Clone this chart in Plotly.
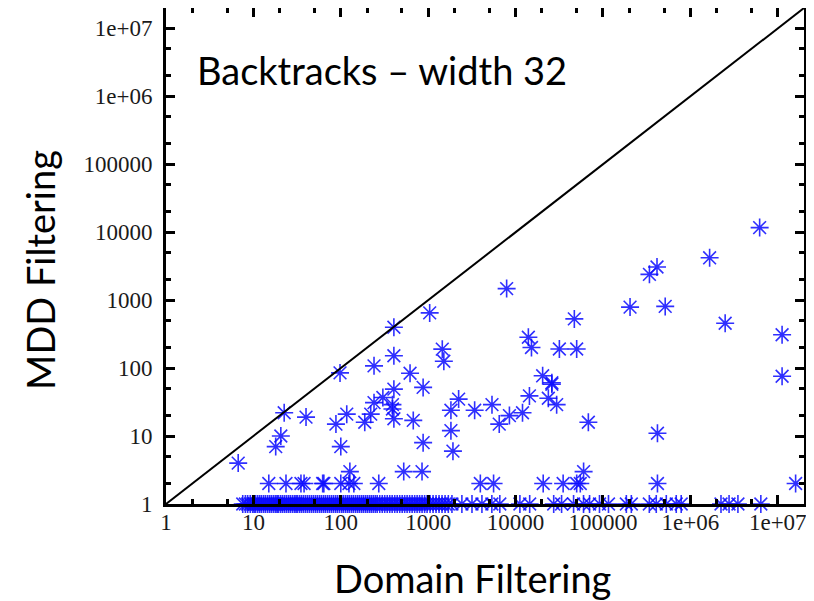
import plotly.graph_objects as go

# ---- data ----
tick_vals = [1, 10, 100, 1000, 10000, 100000, 1e6, 1e7]
tick_text = ["1", "10", "100", "1000", "10000", "100000", "1e+06", "1e+07"]

# points with MDD filtering backtracks > 3
domain_upper = [6.7, 18, 20.6, 22.5, 40, 88, 117, 100, 188, 220, 240, 303, 390, 405, 390, 405,
                675, 875, 875, 1820, 1820, 1920, 2230, 3400,
                5370, 6500, 8500, 12000, 14400, 23700, 29500, 26000, 68000, 420000,
                7900, 47000, 14000, 15200, 31700, 50000, 20400, 26000, 204000, 515000,
                340000, 415000, 1.66e6, 6.2e6, 2.5e6, 1.12e7, 1.12e7,
                98, 405, 1040, 240, 405, 620, 1450, 1510]
mdd_upper = [4, 7, 10, 22, 19, 15, 21, 7, 16, 21, 31, 37, 29, 49, 25, 18,
             17, 52, 8, 24, 12, 6, 35, 24,
             29, 15, 20, 22, 39, 36, 29, 58, 16, 11,
             1480, 530, 284, 201, 191, 191, 77, 61, 790, 810,
             2400, 3080, 4200, 11700, 457, 310, 76,
             85, 400, 650, 108, 152, 84, 190, 126]

# points with MDD = 2
domain_two = [15, 23.6, 35, 38, 62, 64, 100, 124, 141, 272, 3950, 5600, 20700, 35000,
              50000, 55000, 420000, 1.6e7]
mdd_two = [2] * len(domain_two)

# points with MDD = 3
domain_three = [127, 525, 850, 60000]
mdd_three = [3] * len(domain_three)

# points with MDD = 1 (a dense cluster between ~8 and ~2000, sparser beyond)
domain_one = [7.55, 8.1, 8.6, 9.2, 9.8, 10.2, 10.6, 11.2, 11.8, 12.4, 13.1, 13.8, 14.6, 15.4,
              16.2, 17.1, 18.0, 18.7, 19.4, 20.5, 21.6, 22.8, 24.0, 25.3, 26.6, 28.1, 29.6,
              30.8, 32.0, 33.8, 35.6, 37.5, 39.5, 41.6, 43.8, 46.2, 48.7, 51.4, 54.1, 57.1,
              60.1, 63.4, 66.7, 70.4, 74.1, 78.2, 82.4, 87, 91.5, 96.5, 102, 107, 113, 119,
              125, 132, 139, 147, 155, 163, 172, 181, 191, 201, 212, 223, 235, 248, 261,
              279, 298, 318, 340, 363, 387, 414, 442, 472, 504, 538, 574, 613, 655, 700,
              747, 797, 851, 910, 971, 1050, 1137, 1230, 1331, 1440, 1560, 1700, 1870,
              2430, 3170, 4120, 5350, 6600,
              11200, 14500, 27300, 33600, 46100, 59900, 70200, 91200, 115600, 185000,
              211000, 339000, 407000, 530000, 689000, 785000, 2.24e6, 2.77e6, 3.5e6, 6.4e6]
mdd_one = [1] * len(domain_one)

diag = [1, 10 ** 7.3]

xs = domain_upper + domain_two + domain_three + domain_one
ys = mdd_upper + mdd_two + mdd_three + mdd_one

BLUE = "rgba(10,10,255,0.85)"
fig = go.Figure()
fig.add_trace(go.Scatter(x=xs, y=ys, mode="markers", cliponaxis=False,
                         marker=dict(symbol="asterisk-open", size=15, color=BLUE,
                                     line=dict(color=BLUE, width=1.6)),
                         showlegend=False))
# y = x reference line, drawn on the overlay axes (same ranges) so they are rendered
fig.add_trace(go.Scatter(x=diag, y=diag, mode="lines", xaxis="x2", yaxis="y2",
                         line=dict(color="black", width=2), hoverinfo="skip",
                         showlegend=False))

minor_vals = [m * 10 ** k for k in range(8) for m in (2, 5)]
RANGE = [0, 7.3]

def axis(**extra):
    d = dict(
        type="log", range=RANGE, tickmode="array", tickvals=tick_vals, ticktext=tick_text,
        ticks="inside", ticklen=9, tickwidth=2.5, tickcolor="black",
        showline=True, linewidth=3, linecolor="black",
        showgrid=False, zeroline=False, layer="above traces", automargin=False,
        tickfont=dict(family="Liberation Serif", size=23, color="#1a1a1a"),
        minor=dict(tickmode="array", tickvals=minor_vals, ticks="inside", ticklen=5,
                   tickwidth=2.5, tickcolor="black", showgrid=False),
    )
    d.update(extra)
    return d

# the page body has an 8px margin, so the figure is sized to fit the 814x601 window
fig.update_layout(
    width=806, height=593,
    margin=dict(l=158, r=10, t=0, b=97),
    paper_bgcolor="white", plot_bgcolor="white",
    xaxis=axis(ticklabelstandoff=-5),
    yaxis=axis(ticklabelstandoff=6),
    xaxis2=axis(overlaying="x", side="top", showticklabels=False, anchor="y"),
    yaxis2=axis(overlaying="y", side="right", showticklabels=False, anchor="x"),
    annotations=[
        dict(text="Backtracks – width 32", xref="paper", yref="paper",
             x=0.045, y=0.875, xanchor="left", yanchor="middle", showarrow=False,
             font=dict(family="Lato", size=38, color="black")),
        dict(text="Domain Filtering", xref="paper", yref="paper",
             x=0.48, y=-0.149, xanchor="center", yanchor="middle", showarrow=False,
             font=dict(family="Lato", size=38, color="black")),
        dict(text="MDD Filtering", xref="paper", yref="paper", textangle=-90,
             x=-0.1975, y=0.472, xanchor="center", yanchor="middle", showarrow=False,
             font=dict(family="Lato", size=38, color="black")),
    ],
)

fig.write_html("out.html")
